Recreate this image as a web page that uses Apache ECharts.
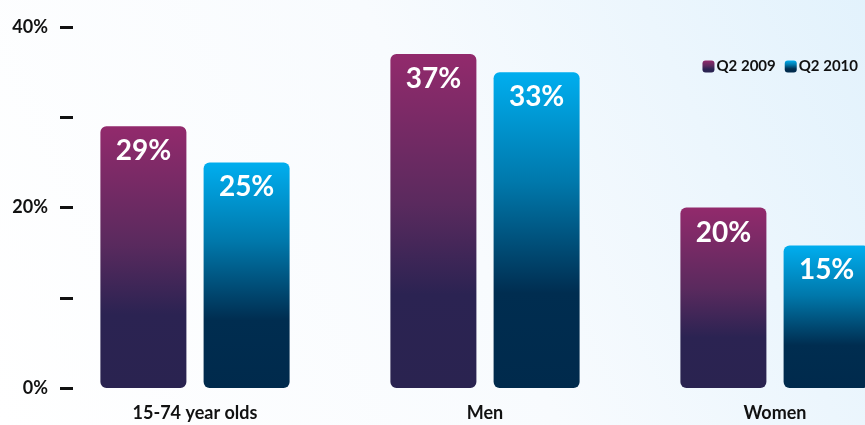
<!DOCTYPE html>
<html><head><meta charset="utf-8">
<script src="https://cdn.jsdelivr.net/npm/echarts@6/dist/echarts.min.js"></script>
<style>html,body{margin:0;padding:0;overflow:hidden;width:865px;height:425px;}#c{width:920px;height:425px;}</style>
</head><body><div id="c"></div>
<script>
const categories = ['15-74 year olds', 'Men', 'Women'];
const seriesNames = ['Q2 2009', 'Q2 2010'];
// bar heights as drawn in the picture (percent)
const q2009 = [29, 37, 20];
const q2010 = [25, 35, 15.8];
// printed labels
const q2009Labels = ['29%', '37%', '20%'];
const q2010Labels = ['25%', '33%', '15%'];
const yTickLabels = {0: '0%', 20: '20%', 40: '40%'};

const font = 'Lato';
function grad(stops){
  return new echarts.graphic.LinearGradient(0,0,0,1, stops.map(s=>({offset:s[0], color:s[1]})));
}
const purple = grad([[0,'#922a6c'],[0.45,'#5a2a5e'],[0.72,'#2b2352'],[1,'#2a2350']]);
const blue = grad([[0,'#00aeef'],[0.35,'#0078ab'],[0.7,'#002d50'],[1,'#002a4c']]);

function mkLabel(labels){
  return {show:true, position:'insideTop', distance:11, color:'#fff', fontFamily:font,
    fontWeight:'bold', fontSize:28, formatter: p => labels[p.dataIndex]};
}

const chart = echarts.init(document.getElementById('c'));
chart.setOption({
  animation:false,
  backgroundColor: new echarts.graphic.LinearGradient(0,1,1,0,[{offset:0,color:'#ffffff'},{offset:0.5,color:'#f8fbfe'},{offset:1,color:'#e0f1fc'}]),
  legend:{right:57, top:54, itemWidth:12, itemHeight:12, itemGap:9, icon:'roundRect',
    textStyle:{fontFamily:font, fontWeight:'bold', fontSize:15, color:'#111', padding:[0,0,0,-3]},
    data:seriesNames},
  grid:{left:50, right:0, top:27, bottom:37},
  xAxis:{type:'category', data:categories, axisLine:{show:false}, axisTick:{show:false},
    axisLabel:{margin:16, color:'#111', fontFamily:font, fontWeight:'bold', fontSize:18}},
  yAxis:{type:'value', min:0, max:40, interval:10, offset:-23,
    splitLine:{show:false}, axisLine:{show:false},
    axisTick:{show:true, length:13, lineStyle:{color:'#111', width:3}},
    axisLabel:{margin:25, color:'#111', fontFamily:font, fontWeight:'bold', fontSize:18,
      formatter: v => yTickLabels[v] || ''}},
  series:[
    {name:seriesNames[0], type:'bar', data:q2009, barWidth:86, barGap:'20%',
     itemStyle:{color:purple, borderRadius:6}, label:mkLabel(q2009Labels)},
    {name:seriesNames[1], type:'bar', data:q2010, barWidth:86,
     itemStyle:{color:blue, borderRadius:6}, label:mkLabel(q2010Labels)}
  ]
});
</script></body></html>
